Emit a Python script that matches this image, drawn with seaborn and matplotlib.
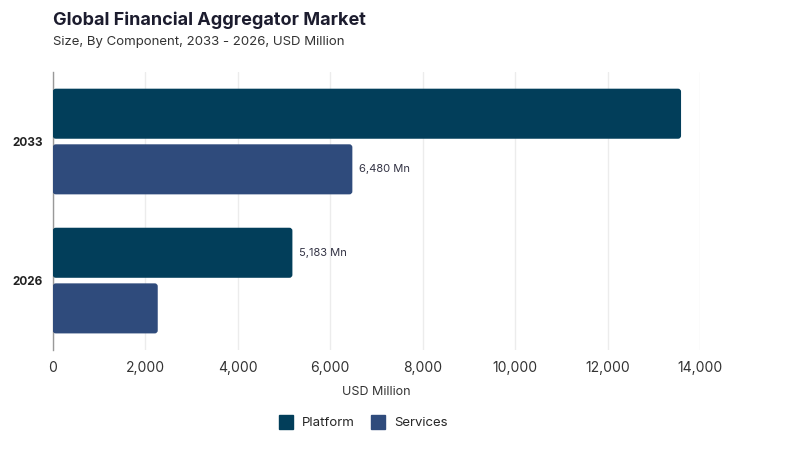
import matplotlib.pyplot as plt
import seaborn as sns
import pandas as pd
from matplotlib.lines import Line2D
from matplotlib.patches import FancyBboxPatch

years = ['2033', '2026']
components = ['Platform', 'Services']
platform = [13590, 5183]
services = [6480, 2270]
labels = {('Services', '2033'): '6,480 Mn', ('Platform', '2026'): '5,183 Mn'}
colors = ['#023e5a', '#2f4b7c']

df = pd.DataFrame({
    'year': years * 2,
    'component': ['Platform'] * 2 + ['Services'] * 2,
    'value': platform + services,
})

sns.set_style('white')
plt.rcParams['font.family'] = ['Inter', 'DejaVu Sans']

fig = plt.figure(figsize=(8, 4.5), dpi=100)
ax = fig.add_axes([0.066, 0.222, 0.809, 0.618])

sns.barplot(data=df, x='value', y='year', hue='component', order=years,
            hue_order=components, palette=colors, orient='h', gap=0.1,
            width=0.8, saturation=1, linewidth=0, legend=False, ax=ax, zorder=3)

ax.set_xlim(0, 14000)
ax.set_ylim(1.5, -0.5)

# swap the plain rectangles for slightly rounded ones
px_x = 14000 / (0.809 * 800)
px_y = 2 / (0.618 * 450)
for cont, comp in zip(ax.containers, components):
    for bar, yr in zip(cont, years):
        x0, y0, w, h = bar.get_x(), bar.get_y(), bar.get_width(), bar.get_height()
        bar.set_visible(False)
        ax.add_patch(FancyBboxPatch((x0, y0), w, h,
                                    boxstyle=f'round,pad=0,rounding_size={3 * px_x}',
                                    mutation_aspect=px_y / px_x,
                                    facecolor=bar.get_facecolor(), edgecolor='none', zorder=3))
        txt = labels.get((comp, yr))
        if txt:
            ax.text(x0 + w + 150, y0 + h / 2, txt,
                    va='center', ha='left', fontsize=8, color='#333344')

ax.set_xticks(range(0, 14001, 2000))
ax.set_xticklabels([f'{v:,}' for v in range(0, 14001, 2000)], fontsize=10, color='#333333')
ax.tick_params(axis='y', labelsize=8.5, length=0, pad=7)
ax.tick_params(axis='x', length=0, pad=8)
for lbl in ax.get_yticklabels():
    lbl.set_fontweight('bold')
    lbl.set_color('#222222')
ax.set_ylabel('')
ax.set_xlabel('USD Million', fontsize=9, color='#333333', labelpad=8)

ax.grid(axis='x', color='#ececec', linewidth=1, zorder=0)
ax.set_axisbelow(True)
for s in ['top', 'right', 'bottom']:
    ax.spines[s].set_visible(False)
ax.spines['left'].set_color('#999999')
ax.spines['left'].set_linewidth(1)

fig.text(0.066, 0.945, 'Global Financial Aggregator Market', fontsize=13,
         fontweight='bold', color='#1c1c2e')
fig.text(0.066, 0.9, 'Size, By Component, 2033 - 2026, USD Million',
         fontsize=9.5, color='#333333')

handles = [Line2D([0], [0], marker='s', linestyle='', markersize=10,
                  markerfacecolor=c, markeredgecolor=c) for c in colors]
fig.legend(handles, components, loc='center', bbox_to_anchor=(0.45, 0.06),
           ncol=2, frameon=False, fontsize=9.5, handletextpad=0.2, columnspacing=0.8)

fig.savefig('out.png', dpi=100)
